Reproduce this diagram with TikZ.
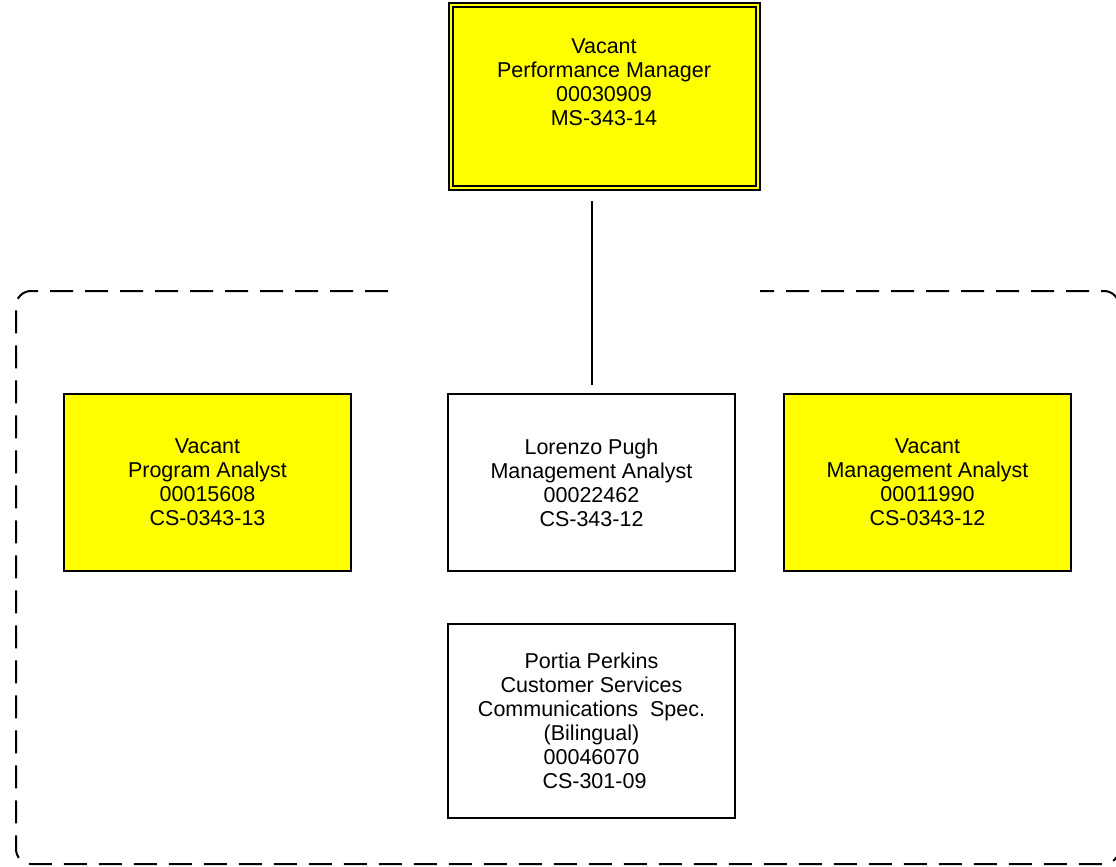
\documentclass[tikz,border=0pt]{standalone}
\usepackage{fontspec}
\setmainfont{Liberation Sans}
\definecolor{vacyellow}{RGB}{255,255,0}
\begin{document}
\begin{tikzpicture}[x=1pt,y=-1pt,
    posbox/.style={draw,line width=2pt,align=center,inner sep=0pt,
      font=\fontsize{21.5}{24}\selectfont},
    vacant/.style={posbox,fill=vacyellow},
    frame/.style={line width=2pt,dash pattern=on 23pt off 12pt,rounded corners=15pt}]
  \useasboundingbox (0,0) rectangle (1116,867);

  % Leitung (Doppelrahmen)
  \node[vacant,double=vacyellow,double distance=2pt,
    minimum width=307pt,minimum height=182pt] (mgr) at (604,96.5)
    {Vacant\\Performance Manager\\00030909\\MS-343-14\\[5pt]~};

  % gestrichelter Bereich
  \draw[frame] (388,291) -- (16,291) -- (16,864) -- (1119,864) -- (1119,291) -- (760,291);

  % Stellen
  \node[vacant,minimum width=287pt,minimum height=177pt] (progan) at (207.5,482.5)
    {Vacant\\Program Analyst\\00015608\\CS-0343-13};
  \node[posbox,minimum width=287pt,minimum height=177pt] (lpugh) at (591.5,482.5)
    {Lorenzo Pugh\\Management Analyst\\00022462\\CS-343-12};
  \node[vacant,minimum width=287pt,minimum height=177pt] (mgtan) at (927.5,482.5)
    {Vacant\\Management Analyst\\00011990\\CS-0343-12};
  \node[posbox,minimum width=287pt,minimum height=194pt] (pperkins) at (591.5,721)
    {Portia Perkins\\Customer Services\\Communications\ \ Spec.\\(Bilingual)\\00046070\\\ CS-301-09};

  \draw[line width=2pt,shorten <=12.5pt,shorten >=8pt] (lpugh.north |- mgr.south) -- (lpugh.north);
\end{tikzpicture}
\end{document}
